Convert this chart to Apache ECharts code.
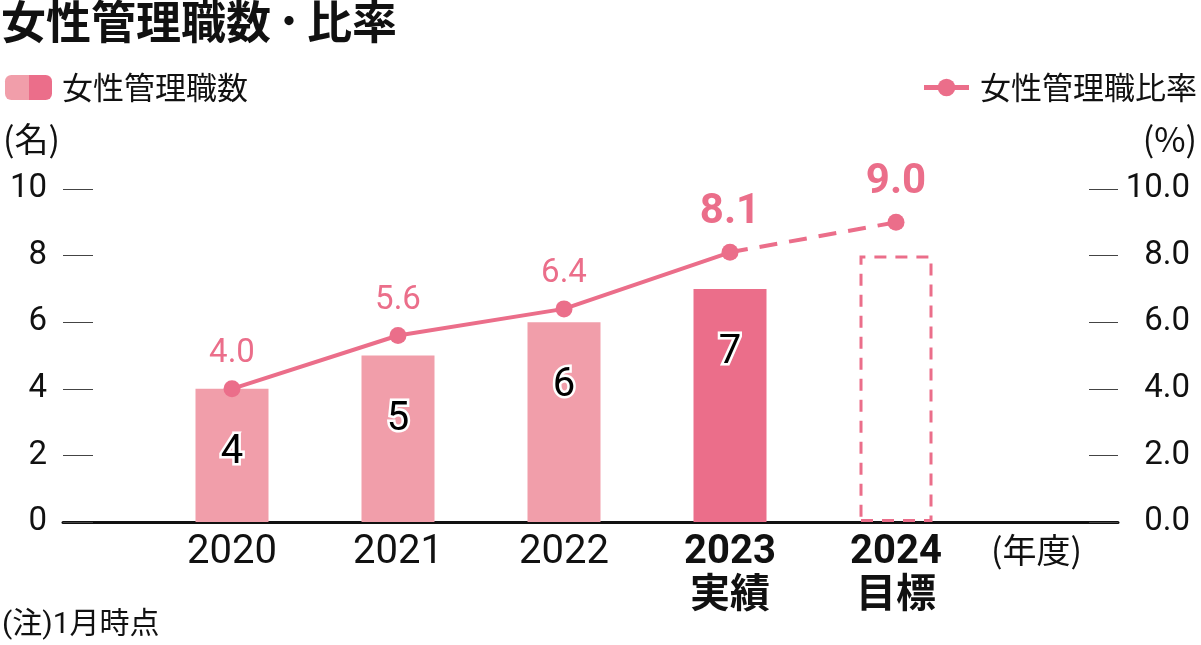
<!DOCTYPE html>
<html>
<head>
<meta charset="utf-8">
<script src="https://cdn.jsdelivr.net/npm/echarts@6/dist/echarts.min.js"></script>
<style>
  html, body { margin: 0; padding: 0; background: #fff; }
  #main { width: 1201px; height: 645px; }
</style>
</head>
<body>
<div id="main"></div>
<script>
// データ
const years = ['2020', '2021', '2022', '2023', '2024']
const subLabels = ['', '', '', '実績', '目標']
const headCount = [4, 5, 6, 7, 8]          // 女性管理職数（2024は目標）
const ratioActual = [4.0, 5.6, 6.4, 8.1, '-']  // 女性管理職比率（実績）
const ratioTarget = ['-', '-', '-', 8.1, 9.0]  // 2023→2024 目標
const yTicks = [0, 2, 4, 6, 8, 10]

const PINK = '#EB6E8A'
const PINK_LIGHT = '#F19EAA'
const FONT = 'Roboto, "Noto Sans CJK JP", sans-serif'
const JP = '"Noto Sans CJK JP", Roboto, sans-serif'

const chart = echarts.init(document.getElementById('main'), null, { renderer: 'canvas' })

const barData = headCount.map((v, i) => {
  if (i === 4) {
    return {
      value: v,
      itemStyle: { color: 'rgba(255,255,255,0)', borderColor: PINK, borderWidth: 3, borderType: [12, 9] },
      label: { show: false }
    }
  }
  return { value: v, itemStyle: { color: i === 3 ? PINK : PINK_LIGHT } }
})

const boldIdx = [3, 4]
const lineLabel = (i) => boldIdx.includes(i)
  ? { fontSize: 42, fontWeight: 'bold' }
  : { fontSize: 33, fontWeight: 'normal' }

const actualData = ratioActual.map((v, i) => v === '-' ? v : { value: v, label: lineLabel(i) })
const targetData = ratioTarget.map((v, i) => {
  if (v === '-') return v
  if (i === 3) return { value: v, symbol: 'none', label: { show: false } }
  return { value: v, label: lineLabel(i) }
})

const unitStyle = { fontFamily: JP, fontSize: 34, fontWeight: 'normal', color: '#111' }

chart.setOption({
  animation: false,
  textStyle: { fontFamily: FONT },
  title: [
    {
      text: '{a|女性管理職数}{d|・}{a|比率}', left: 1, top: -1, padding: 0,
      textStyle: {
        rich: {
          a: { fontFamily: JP, fontSize: 45, fontWeight: 'bold', color: '#111' },
          d: { fontFamily: JP, fontSize: 36, fontWeight: 'bold', color: '#111' }
        }
      }
    },
    { text: '(名)', left: 3, top: 122, padding: 0, textStyle: unitStyle },
    { text: '(%)', right: 4, top: 122, padding: 0, textStyle: unitStyle },
    { text: '(年度)', left: 991, top: 533, padding: 0, textStyle: unitStyle },
    { text: '(注)1月時点', left: 2, top: 610, padding: 0,
      textStyle: { fontFamily: FONT, fontSize: 30, fontWeight: 'normal', color: '#111' } }
  ],
  legend: [
    {
      data: ['女性管理職数'],
      left: 5, top: 72, padding: 0,
      itemWidth: 47, itemHeight: 25,
      textStyle: { fontFamily: JP, fontSize: 31, color: '#111', padding: [0, 0, 0, 5] }
    },
    {
      data: ['女性管理職比率'],
      right: 4, top: 72, padding: 0,
      itemWidth: 45, itemHeight: 22,
      lineStyle: { width: 5 },
      textStyle: { fontFamily: JP, fontSize: 31, color: '#111', padding: [0, 0, 0, 6] }
    }
  ],
  grid: [
    { left: 149, right: 222, top: 189, bottom: 123 },
    { left: 63, right: 83, top: 189, bottom: 123 }
  ],
  xAxis: [
    {
      type: 'category',
      gridIndex: 0,
      data: years,
      axisLine: { show: false },
      axisTick: { show: false },
      axisLabel: {
        margin: 9,
        formatter: (val, i) => subLabels[i]
          ? '{b|' + val + '}\n{b|' + subLabels[i] + '}'
          : '{n|' + val + '}',
        rich: {
          n: { fontFamily: FONT, fontSize: 40, color: '#111', lineHeight: 44 },
          b: { fontFamily: FONT, fontSize: 40, fontWeight: 'bold', color: '#111', lineHeight: 44 }
        }
      }
    },
    {
      type: 'value',
      gridIndex: 1,
      min: 0, max: 1,
      axisLine: { show: true, lineStyle: { color: '#111', width: 3 } },
      axisTick: { show: false },
      axisLabel: { show: false },
      splitLine: { show: false }
    }
  ],
  yAxis: [
    { type: 'value', gridIndex: 0, min: 0, max: 10, show: false },
    {
      type: 'value', gridIndex: 1, position: 'left',
      min: yTicks[0], max: yTicks[yTicks.length - 1], interval: 2,
      axisLine: { show: false },
      axisTick: { show: true, inside: true, length: 30, lineStyle: { color: '#444', width: 1 } },
      axisLabel: { margin: 16, fontSize: 33, color: '#111', fontFamily: FONT },
      splitLine: { show: false }
    },
    {
      type: 'value', gridIndex: 1, position: 'right',
      min: yTicks[0], max: yTicks[yTicks.length - 1], interval: 2,
      axisLine: { show: false },
      axisTick: { show: true, inside: true, length: 29, lineStyle: { color: '#444', width: 1 } },
      axisLabel: {
        margin: 72, align: 'right', fontSize: 33, color: '#111', fontFamily: FONT,
        formatter: (v) => v.toFixed(1)
      },
      splitLine: { show: false }
    }
  ],
  series: [
    {
      name: '女性管理職数',
      type: 'bar',
      xAxisIndex: 0, yAxisIndex: 0,
      barWidth: 73,
      itemStyle: {
        color: {
          type: 'linear', x: 0, y: 0, x2: 1, y2: 0,
          colorStops: [
            { offset: 0, color: PINK_LIGHT },
            { offset: 0.5, color: PINK_LIGHT },
            { offset: 0.5, color: PINK },
            { offset: 1, color: PINK }
          ]
        }
      },
      label: {
        show: true,
        position: 'insideTop',
        distance: 44,
        fontFamily: FONT,
        fontSize: 40,
        color: '#000',
        textBorderColor: '#fff',
        textBorderWidth: 5
      },
      data: barData,
      z: 1
    },
    {
      name: '女性管理職比率',
      type: 'line',
      xAxisIndex: 0, yAxisIndex: 0,
      symbol: 'circle',
      symbolSize: 17,
      lineStyle: { color: PINK, width: 4 },
      itemStyle: { color: PINK },
      label: {
        show: true, position: 'top', distance: 10,
        color: PINK, fontFamily: FONT,
        formatter: (p) => Number(p.value).toFixed(1)
      },
      data: actualData,
      z: 3
    },
    {
      name: '女性管理職比率目標',
      type: 'line',
      xAxisIndex: 0, yAxisIndex: 0,
      symbol: 'circle',
      symbolSize: 17,
      lineStyle: { color: PINK, width: 4, type: [18, 12] },
      itemStyle: { color: PINK },
      label: {
        show: true, position: 'top', distance: 10,
        color: PINK, fontFamily: FONT,
        formatter: (p) => Number(p.value).toFixed(1)
      },
      data: targetData,
      z: 3
    }
  ]
})
</script>
</body>
</html>
